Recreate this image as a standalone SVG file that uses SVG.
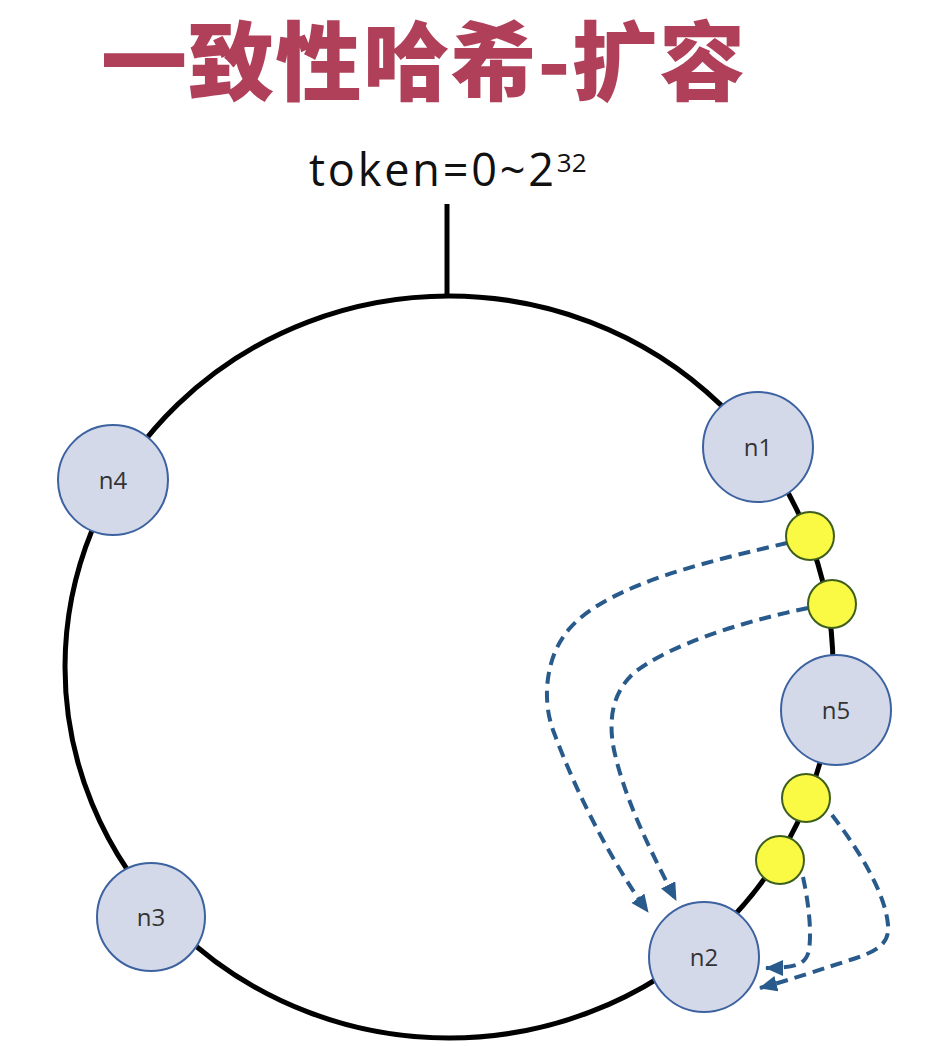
<svg xmlns="http://www.w3.org/2000/svg" width="940" height="1046" viewBox="0 0 940 1046">
  <defs>
    <marker id="ah" markerUnits="userSpaceOnUse" markerWidth="20" markerHeight="18" refX="17" refY="8" orient="auto">
      <path d="M0,0 L18,8 L0,16 z" fill="#285A8C"/>
    </marker>
    <style>
      .title { font-family: "Noto Sans CJK SC", "Noto Sans", sans-serif; font-weight: 900; font-size: 86px; fill: #B0405A; }
      .tok { font-family: "Open Sans", "Liberation Sans", sans-serif; fill: #111; }
      .ring { fill: none; stroke: #000; stroke-width: 5; }
      .node circle { fill: #D4D9EA; stroke: #3D62A0; stroke-width: 2; }
      .node text { font-family: "Open Sans", "Liberation Sans", sans-serif; font-size: 24px; fill: #333; text-anchor: middle; }
      .key circle { fill: #FAFA45; stroke: #3E5E1E; stroke-width: 2; }
      .dash { fill: none; stroke: #285A8C; stroke-width: 4; stroke-dasharray: 12 7; marker-end: url(#ah); }
    </style>
  </defs>
  <rect width="940" height="1046" fill="#fff"/>

  <text class="title" x="101" y="94" textLength="644" lengthAdjust="spacing">一致性哈希-扩容</text>
  <text class="tok" x="309" y="186" font-size="45"><tspan textLength="245" lengthAdjust="spacing">token=0~2</tspan><tspan font-size="26" dy="-14">32</tspan></text>

  <g id="ring">
    <line x1="447" y1="204" x2="447" y2="297" stroke="#000" stroke-width="5"/>
    <ellipse class="ring" cx="449" cy="667" rx="384" ry="371"/>
  </g>

  <g id="connectors">
    <path class="dash" d="M787,543 C715,560 610,583 570,628 C545,656 542,700 553,730 C575,790 610,860 648,912"/>
    <path class="dash" d="M808,608 C740,622 670,645 635,672 C612,692 608,720 614,750 C625,800 650,850 676,900"/>
    <path class="dash" d="M803,877 C808,900 812,930 809,950 C806,965 795,968 766,968"/>
    <path class="dash" d="M832,815 C855,845 885,890 888,925 C890,945 875,952 850,960 C825,968 790,980 760,988"/>
  </g>

  <g id="n1" class="node"><circle cx="758" cy="447" r="55"/><text x="758" y="456">n1</text></g>
  <g id="n2" class="node"><circle cx="704" cy="957" r="55"/><text x="704" y="966">n2</text></g>
  <g id="n3" class="node"><circle cx="151" cy="917" r="54"/><text x="151" y="926">n3</text></g>
  <g id="n4" class="node"><circle cx="113" cy="480" r="55"/><text x="113" y="489">n4</text></g>
  <g id="n5" class="node"><circle cx="836" cy="710" r="55"/><text x="836" y="719">n5</text></g>

  <g id="k1" class="key"><circle cx="810" cy="536" r="24"/></g>
  <g id="k2" class="key"><circle cx="832" cy="604" r="24"/></g>
  <g id="k3" class="key"><circle cx="806" cy="798" r="24"/></g>
  <g id="k4" class="key"><circle cx="780" cy="860" r="24"/></g>
</svg>
